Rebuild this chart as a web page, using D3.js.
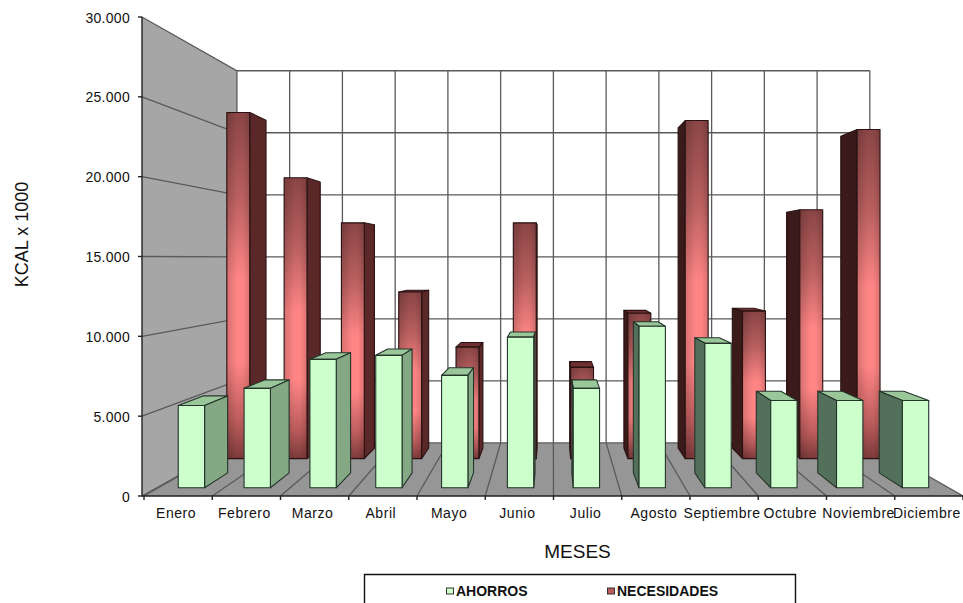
<!DOCTYPE html>
<html>
<head>
<meta charset="utf-8">
<script src="https://cdn.jsdelivr.net/npm/d3@7/dist/d3.min.js"></script>
<style>
html,body{margin:0;padding:0;background:#fff;overflow:hidden}
svg{display:block}
text{font-family:"Liberation Sans",Arial,sans-serif;fill:#111}
</style>
</head>
<body>
<svg id="chart" width="963" height="603"></svg>
<script>
// Monthly energy balance, kcal x 1000
const months = ["Enero","Febrero","Marzo","Abril","Mayo","Junio","Julio","Agosto","Septiembre","Octubre","Noviembre","Diciembre"];
const ahorros = [5340,6450,8330,8590,7290,9770,6450,10480,9370,5660,5660,5660];
const necesidades = [25720,20870,17520,12380,8280,17520,6780,10800,25120,10960,18490,24450];
const yTicks = [0,5000,10000,15000,20000,25000,30000];
const seriesNames = ["AHORROS","NECESIDADES"];

const svg = d3.select("#chart");
const fmt = v => v === 0 ? "0" : d3.format(",")(v).replace(",", ".");

// Scales on the front plane of the box
const x = d3.scaleBand().domain(months).range([144, 963]).paddingInner(0).paddingOuter(0);
const y = d3.scaleLinear().domain([0, 30000]).range([496, 17]);
const depth = d3.scaleLinear().domain([0, 1]).range([0, 0.294]);
const depthY = d3.scaleLinear().domain([0, 1]).range([0, 0.287]);
const axisX = 142;

// One-point perspective towards the vanishing point
const vx = 553, vy = 258;
function project(px, py, d) {
  return [vx + (px - vx) / (1 + depth(d)), vy + (py - vy) / (1 + depthY(d))];
}
const poly = pts => pts.map(p => p.join(",")).join(" ");
const line = d3.line();

// Gradients
const defs = svg.append("defs");
const redFront = defs.append("linearGradient").attr("id","redFront").attr("x1",0).attr("x2",0).attr("y1",0).attr("y2",1);
[[0,"#8a4545"],[0.25,"#bb6060"],[0.48,"#ff8585"],[0.72,"#ff8585"],[0.9,"#b85a5a"],[1,"#7c3a3a"]]
  .forEach(s => redFront.append("stop").attr("offset",s[0]).attr("stop-color",s[1]));
const edgeShade = defs.append("linearGradient").attr("id","edgeShade").attr("x1",0).attr("x2",1).attr("y1",0).attr("y2",0);
[[0,0.16],[0.45,0],[0.7,0],[1,0.14]].forEach(s => edgeShade.append("stop").attr("offset",s[0]).attr("stop-color","#000").attr("stop-opacity",s[1]));

// Box: floor, side wall and back wall
const xL = x.range()[0], xR = x.range()[1];
const y0 = y(0), yT = y(30000);
const box = svg.append("g");
box.append("polygon").attr("fill","#fff")
  .attr("points", poly([project(xL,yT,1),project(xR,yT,1),project(xR,y0,1),project(xL,y0,1)]));
box.append("polygon").attr("fill","#a6a6a6")
  .attr("points", poly([[axisX,yT],project(xL,yT,1),project(xL,y0,1),[axisX,y0]]));
box.append("polygon").attr("fill","#969696")
  .attr("points", poly([[axisX,y0],[xR,y0],project(xR,y0,1),project(xL,y0,1)]));

// Gridlines across the walls and floor
const grid = box.append("g").attr("fill","none").attr("stroke","#5a5a5a").attr("stroke-width",1.3);
yTicks.forEach(t => {
  grid.append("path").attr("d", line([[axisX,y(t)],project(xL,y(t),1),project(xR,y(t),1)]));
});
const edges = months.map(m => x(m)).concat([xR]);
edges.forEach(e => {
  grid.append("path").attr("d", line([[e,y0],project(e,y0,1),project(e,yT,1)]));
});

// Front axes
const axes = svg.append("g").attr("stroke","#222").attr("stroke-width",1.4).attr("fill","none");
axes.append("path").attr("d", line([[axisX,yT],[axisX,y0],[xR,y0]]));
yTicks.forEach(t => axes.append("path").attr("d", line([[axisX-4,y(t)],[axisX,y(t)]])));
edges.forEach(e => axes.append("path").attr("d", line([[e,y0],[e,y0+4]])));

// Bars as projected boxes
const barW = x.bandwidth() * 0.4;
function drawBar(g, month, value, d1, d2, c) {
  const cx = x(month) + x.bandwidth()/2;
  const l = cx - barW/2, r = cx + barW/2, top = y(value);
  const P = project;
  const bar = g.append("g").attr("stroke",c.stroke).attr("stroke-width",1.1).attr("stroke-linejoin","round");
  if (P(l,top,d1)[1] > vy) {
    bar.append("polygon").attr("fill",c.top)
      .attr("points", poly([P(l,top,d1),P(r,top,d1),P(r,top,d2),P(l,top,d2)]));
  }
  if (r < vx) {
    bar.append("polygon").attr("fill",c.sideRight)
      .attr("points", poly([P(r,top,d1),P(r,top,d2),P(r,y0,d2),P(r,y0,d1)]));
  } else if (l > vx) {
    bar.append("polygon").attr("fill",c.sideLeft)
      .attr("points", poly([P(l,top,d1),P(l,top,d2),P(l,y0,d2),P(l,y0,d1)]));
  }
  const front = poly([P(l,top,d1),P(r,top,d1),P(r,y0,d1),P(l,y0,d1)]);
  bar.append("polygon").attr("fill",c.front).attr("points",front);
  if (c.shaded) bar.append("polygon").attr("fill","url(#edgeShade)").attr("stroke","none").attr("points",front);
}

const redStyle = {front:"url(#redFront)",top:"#6e3030",sideRight:"#5a2828",sideLeft:"#3b1a1a",stroke:"#2a1212",shaded:true};
const greenStyle = {front:"#ccffcc",top:"#99c799",sideRight:"#84a884",sideLeft:"#53705a",stroke:"#24342a",shaded:false};

const redLayer = svg.append("g"), greenLayer = svg.append("g");
months.forEach((m,i) => drawBar(redLayer, m, necesidades[i], 0.65, 0.88, redStyle));
months.forEach((m,i) => drawBar(greenLayer, m, ahorros[i], 0.125, 0.375, greenStyle));

// Axis labels
const tickG = svg.append("g");
yTicks.forEach(t => tickG.append("text").attr("x",130).attr("y",y(t)+5.5).attr("text-anchor","end").attr("font-size",14).attr("letter-spacing",0.3).text(fmt(t)));
months.forEach(m => tickG.append("text").attr("x",x(m)+x.bandwidth()/2-2).attr("y",518).attr("text-anchor","middle").attr("font-size",14).attr("letter-spacing",0.55).text(m));

svg.append("text").attr("x",577.5).attr("y",558).attr("text-anchor","middle").attr("font-size",19).text("MESES");
svg.append("text").attr("transform","translate(28,234.5) rotate(-90)").attr("text-anchor","middle").attr("font-size",18).text("KCAL x 1000");

// Legend, running off the lower edge
const legend = svg.append("g");
legend.append("path").attr("d", line([[364.5,604],[364.5,574.5],[795.5,574.5],[795.5,604]])).attr("fill","none").attr("stroke","#111").attr("stroke-width",1.4);
const legendX = [446,607];
const legendFill = ["#ccffcc","#bf5a5a"];
seriesNames.forEach((n,i) => {
  legend.append("rect").attr("x",legendX[i]+0.5).attr("y",588).attr("width",7).attr("height",6).attr("fill",legendFill[i]).attr("stroke","#333").attr("stroke-width",1);
  legend.append("text").attr("x",legendX[i]+10).attr("y",596).attr("font-size",14).attr("font-weight","bold").text(n);
});
</script>
</body>
</html>
